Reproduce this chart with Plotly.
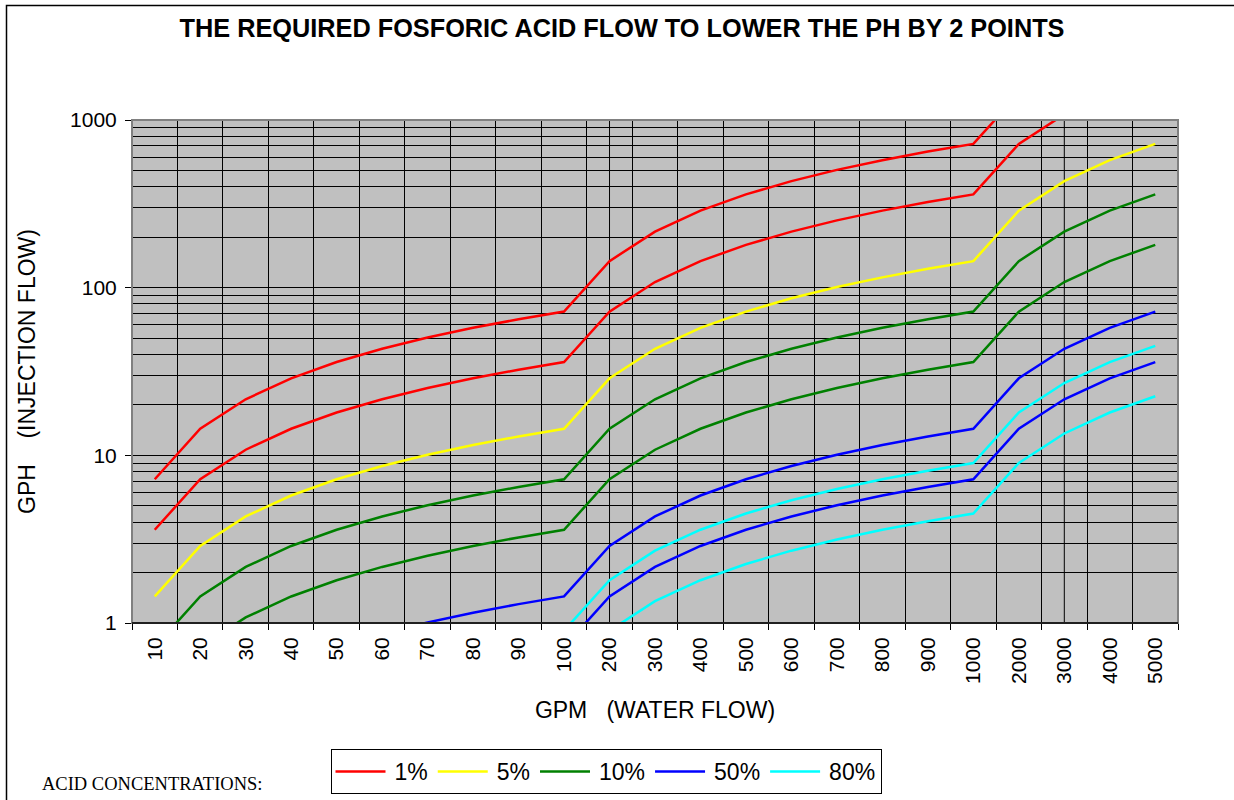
import plotly.graph_objects as go

# Categories (GPM water flow)
categories = ["10", "20", "30", "40", "50", "60", "70", "80", "90", "100",
              "200", "300", "400", "500", "600", "700", "800", "900", "1000",
              "2000", "3000", "4000", "5000"]

# GPH injection flow (two curves per concentration)
red_hi = [7.2, 14.4, 21.6, 28.8, 36, 43.2, 50.4, 57.6, 64.8, 72,
          144, 216, 288, 360, 432, 504, 576, 648, 720, 1440, 2160, 2880, 3600]
red_lo = [3.6, 7.2, 10.8, 14.4, 18, 21.6, 25.2, 28.8, 32.4, 36,
          72, 108, 144, 180, 216, 252, 288, 324, 360, 720, 1080, 1440, 1800]
yellow = [1.44, 2.88, 4.32, 5.76, 7.2, 8.64, 10.08, 11.52, 12.96, 14.4,
          28.8, 43.2, 57.6, 72, 86.4, 100.8, 115.2, 129.6, 144, 288, 432, 576, 720]
green_hi = [0.72, 1.44, 2.16, 2.88, 3.6, 4.32, 5.04, 5.76, 6.48, 7.2,
            14.4, 21.6, 28.8, 36, 43.2, 50.4, 57.6, 64.8, 72, 144, 216, 288, 360]
green_lo = [0.36, 0.72, 1.08, 1.44, 1.8, 2.16, 2.52, 2.88, 3.24, 3.6,
            7.2, 10.8, 14.4, 18, 21.6, 25.2, 28.8, 32.4, 36, 72, 108, 144, 180]
blue_hi = [0.144, 0.288, 0.432, 0.576, 0.72, 0.864, 1.008, 1.152, 1.296, 1.44,
           2.88, 4.32, 5.76, 7.2, 8.64, 10.08, 11.52, 12.96, 14.4, 28.8, 43.2, 57.6, 72]
blue_lo = [0.072, 0.144, 0.216, 0.288, 0.36, 0.432, 0.504, 0.576, 0.648, 0.72,
           1.44, 2.16, 2.88, 3.6, 4.32, 5.04, 5.76, 6.48, 7.2, 14.4, 21.6, 28.8, 36]
cyan_hi = [0.09, 0.18, 0.27, 0.36, 0.45, 0.54, 0.63, 0.72, 0.81, 0.9,
           1.8, 2.7, 3.6, 4.5, 5.4, 6.3, 7.2, 8.1, 9, 18, 27, 36, 45]
cyan_lo = [0.045, 0.09, 0.135, 0.18, 0.225, 0.27, 0.315, 0.36, 0.405, 0.45,
           0.9, 1.35, 1.8, 2.25, 2.7, 3.15, 3.6, 4.05, 4.5, 9, 13.5, 18, 22.5]

series = [
    ("1%", "#FF0000", [red_hi, red_lo]),
    ("5%", "#FFFF00", [yellow]),
    ("10%", "#008000", [green_hi, green_lo]),
    ("50%", "#0000FF", [blue_hi, blue_lo]),
    ("80%", "#00FFFF", [cyan_hi, cyan_lo]),
]

W, H = 1234, 800
L, R, T, B = 132, 1178, 120, 623
pw, ph = R - L, B - T

def px(x):
    return (x - L) / pw

def py(y):
    return (B - y) / ph

fig = go.Figure()
for name, color, curves in series:
    for i, vals in enumerate(curves):
        fig.add_trace(go.Scatter(
            x=categories, y=vals, mode="lines", name=name,
            legendgroup=name, showlegend=(i == 0),
            line=dict(color=color, width=2.5),
            hoverinfo="x+y+name",
        ))

font_sans = "Liberation Sans, Arial, sans-serif"

shapes = []
# gridlines at category centres (Excel draws them between boundary gridlines too)
for c in categories:
    shapes.append(dict(type="line", xref="x", yref="paper", x0=c, x1=c, y0=0, y1=1,
                       line=dict(color="black", width=1), layer="between"))
# plot area border
shapes.append(dict(type="rect", xref="paper", yref="paper", x0=0, x1=1, y0=0, y1=1,
                   line=dict(color="#808080", width=2), layer="above"))
# bottom axis line
shapes.append(dict(type="line", xref="paper", yref="paper", x0=0, x1=1, y0=0, y1=0,
                   line=dict(color="black", width=1.5), layer="above"))
# outer chart border
shapes.append(dict(type="rect", xref="paper", yref="paper",
                   x0=px(6.5), x1=px(1245), y0=py(810), y1=py(5.5),
                   line=dict(color="black", width=1.5), layer="above"))

fig.update_layout(
    width=W, height=H,
    margin=dict(l=L, r=W - R, t=T, b=H - B, autoexpand=False),
    paper_bgcolor="white",
    plot_bgcolor="#C0C0C0",
    font=dict(family=font_sans, size=20, color="black"),
    title=dict(text="<b>THE REQUIRED FOSFORIC ACID FLOW TO LOWER THE PH BY 2 POINTS</b>",
               x=622 / W, xanchor="center", y=1 - 28 / H, yanchor="middle",
               font=dict(family=font_sans, size=25.3, color="black")),
    xaxis=dict(
        type="category", categoryorder="array", categoryarray=categories,
        range=[-0.5, len(categories) - 0.5],
        tickson="boundaries", ticks="outside", ticklen=6, tickcolor="black",
        showgrid=True, gridcolor="black", gridwidth=1,
        tickangle=-90, tickfont=dict(family=font_sans, size=21),
        ticklabelstandoff=9,
        showline=False, zeroline=False,
        title=dict(text="GPM\u00a0\u00a0\u00a0(WATER FLOW)", standoff=18,
                   font=dict(family=font_sans, size=23)),
    ),
    yaxis=dict(
        type="log", range=[0, 3], dtick=1, exponentformat="none",
        ticks="outside", ticklen=6, tickcolor="black",
        showgrid=True, gridcolor="black", gridwidth=1,
        minor=dict(dtick="D1", showgrid=True, gridcolor="black", gridwidth=1, ticks=""),
        tickfont=dict(family=font_sans, size=21),
        ticklabelstandoff=4,
        showline=False, zeroline=False,
        title=dict(text="GPH\u00a0\u00a0\u00a0\u00a0(INJECTION FLOW)", standoff=28,
                   font=dict(family=font_sans, size=23)),
    ),
    legend=dict(
        orientation="h", x=px(330.5), y=py(749), xanchor="left", yanchor="top",
        bordercolor="black", borderwidth=1, bgcolor="white",
        font=dict(family=font_sans, size=23),
        itemwidth=54, tracegroupgap=0,
    ),
    shapes=shapes,
    annotations=[dict(
        text="ACID CONCENTRATIONS:", xref="paper", yref="paper",
        x=px(39.5), y=py(784), xanchor="left", yanchor="middle", showarrow=False,
        font=dict(family="Liberation Serif, Times New Roman, serif", size=18.5, color="black"),
    )],
)

post = (
    "document.body.style.margin='0';"
    "document.body.style.overflow='hidden';"
    "document.querySelectorAll('.legendlines path').forEach(function(p){p.setAttribute('d','M5,0h50');});"
)

fig.write_html("out.html", post_script=post, config={"displayModeBar": False})
